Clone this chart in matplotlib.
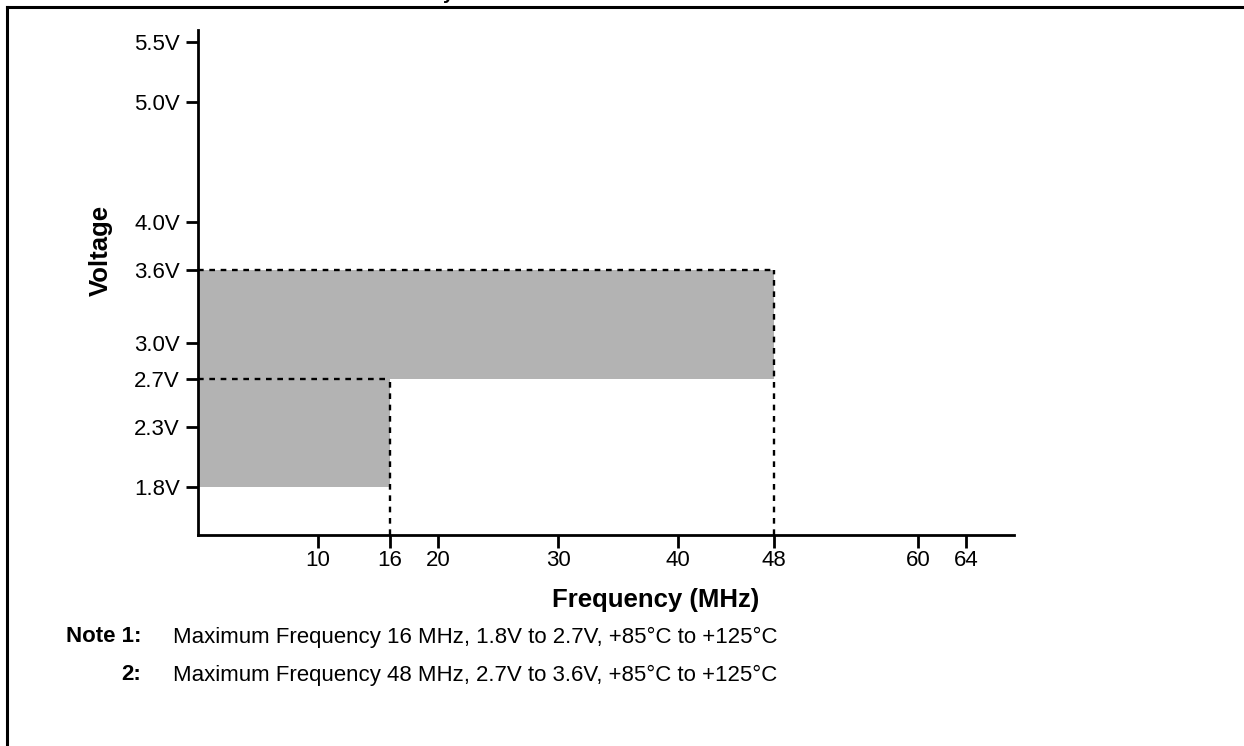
import matplotlib
matplotlib.use("Agg")
import matplotlib.pyplot as plt
from matplotlib.lines import Line2D

plt.rcParams['font.family'] = ['Liberation Sans', 'DejaVu Sans']

# operating regions: (f_min, f_max, v_min, v_max)
region_f_max = [16, 48]
region_v_min = [1.8, 2.7]
region_v_max = [2.7, 3.6]

y_ticks = [1.8, 2.3, 2.7, 3.0, 3.6, 4.0, 5.0, 5.5]
y_tick_labels = ['1.8V', '2.3V', '2.7V', '3.0V', '3.6V', '4.0V', '5.0V', '5.5V']
x_ticks = [10, 16, 20, 30, 40, 48, 60, 64]
x_tick_labels = ['10', '16', '20', '30', '40', '48', '60', '64']

notes = [
    ('Note 1:', 'Maximum Frequency 16 MHz, 1.8V to 2.7V, +85°C to +125°C'),
    ('2:', 'Maximum Frequency 48 MHz, 2.7V to 3.6V, +85°C to +125°C'),
]

W, H = 1244, 746
fig = plt.figure(figsize=(W / 100, H / 100), dpi=100)
ax = fig.add_axes([198 / W, 1 - 535 / H, (1014 - 198) / W, (535 - 30) / H])

x_lo, x_hi = 0, 68
y_lo, y_hi = 1.4, 5.6
ax.set_xlim(x_lo, x_hi)
ax.set_ylim(y_lo, y_hi)

grey = '#b3b3b3'
for f_max, v0, v1 in zip(region_f_max, region_v_min, region_v_max):
    ax.fill_between([0, f_max], v0, v1, color=grey, linewidth=0, zorder=1)

dash = dict(color='black', linestyle=(0, (2.4, 2.4)), linewidth=1.7, zorder=2, clip_on=False)
for f_max, v1 in zip(region_f_max, region_v_max):
    ax.plot([0, f_max], [v1, v1], **dash)
    ax.plot([f_max, f_max], [y_lo, v1], **dash)

for side in ['top', 'right']:
    ax.spines[side].set_visible(False)
for side in ['left', 'bottom']:
    ax.spines[side].set_linewidth(2)

ax.set_yticks(y_ticks)
ax.set_yticklabels(y_tick_labels)
ax.set_xticks(x_ticks)
ax.set_xticklabels(x_tick_labels)
ax.tick_params(axis='both', direction='out', length=9, width=2, labelsize=16)
ax.tick_params(axis='y', pad=4)
ax.tick_params(axis='x', pad=2)

fig.text(101 / W, 1 - 250 / H, 'Voltage', rotation=90, fontsize=18.5, fontweight='bold',
         ha='center', va='center')
fig.text(656 / W, 1 - 600 / H, 'Frequency (MHz)', fontsize=18.5, fontweight='bold',
         ha='center', va='center')

note_y = [637, 675]
for (label, text), y in zip(notes, note_y):
    fig.text(141 / W, 1 - y / H, label, fontsize=16, fontweight='bold',
             ha='right', va='center')
    fig.text(173 / W, 1 - y / H, text, fontsize=16, ha='left', va='center')

# frame around the figure area
fig.add_artist(Line2D([7 / W, 1.0], [1 - 7 / H, 1 - 7 / H], color='black', linewidth=2.2,
                      transform=fig.transFigure))
fig.add_artist(Line2D([7 / W, 7 / W], [0, 1 - 7 / H], color='black', linewidth=2.2,
                      transform=fig.transFigure))
# cut-off title fragment above the frame
fig.text(443 / W, 1 + 1 / H, 'y', fontsize=14, fontweight='bold', ha='left', va='baseline')

fig.savefig('out.png', dpi=100)
